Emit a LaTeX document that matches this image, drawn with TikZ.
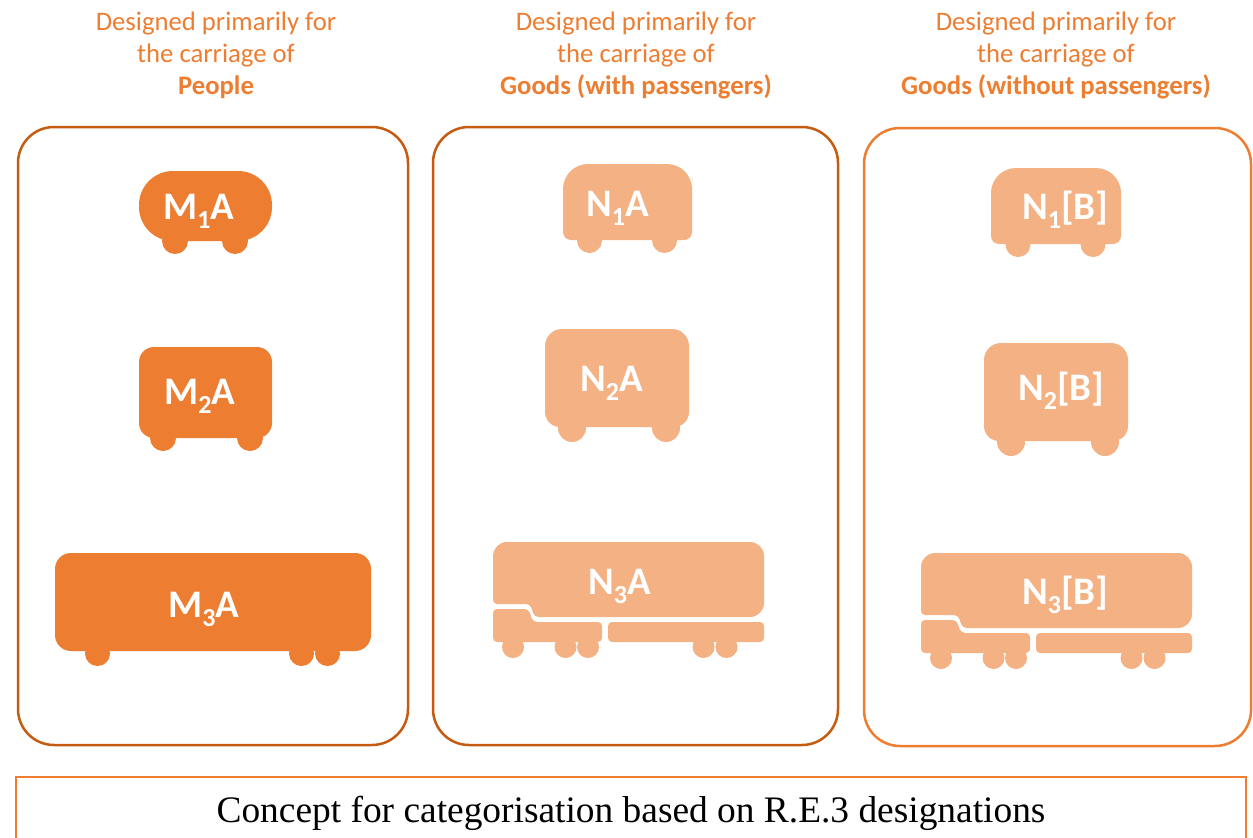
\documentclass[tikz,border=0pt]{standalone}
\usepackage{fontspec}
\setmainfont{Carlito}
\newfontfamily\serifface{Liberation Serif}
\definecolor{deep}{HTML}{C55A11}
\definecolor{mid}{HTML}{ED7D31}
\definecolor{pale}{HTML}{F4B183}
\newcommand{\sbs}[1]{\raisebox{-9pt}{\fontsize{26}{26}\selectfont #1}}
% x1 y1 x2 y2 top-radius bottom-radius
\newcommand{\bodyshape}[6]{%
  \fill ({#1},{(#2+#4)/2}) [rounded corners=#5pt] -- (#1,#2) -- (#3,#2) -- ({#3},{(#2+#4)/2})
     [rounded corners=#6pt] -- (#3,#4) -- (#1,#4) -- cycle;}
\newcommand{\wheel}[3]{\fill (#1,#2) circle[radius=#3pt];}
\newcommand{\truckshape}{%
  \fill [rounded corners=14pt] (493,560) -- (493,542) -- (764,542) -- (764,617) -- (560,617)
     [rounded corners=4pt] -- (534.5,617) -- (530,604) -- (493,604) -- cycle;
  \fill [rounded corners=4pt] (493,609) -- (528.5,609) -- (533,622) -- (602,622) -- (602,642) -- (493,642) -- cycle;
  \fill [rounded corners=4pt] (608,622) -- (764,622) -- (764,642) -- (608,642) -- cycle;
  \wheel{513}{647}{11}\wheel{565.5}{647}{11}\wheel{588}{647}{11}\wheel{703.5}{647}{11}\wheel{726.5}{647}{11}}
\tikzset{
  panel/.style={line width=2.5pt,rounded corners=36pt},
  heading/.style={text=mid,font=\fontsize{26.7}{31.5}\selectfont,align=center,anchor=base,inner sep=0pt},
  lab/.style={text=white,font=\fontsize{39}{39}\selectfont\bfseries,anchor=base west,inner sep=0pt}
}
\begin{document}
\begin{tikzpicture}[x=1pt,y=-1pt]
\useasboundingbox (0,0) rectangle (1253,838);
% headings
\node[heading] (h1a) at (216,30.5) {Designed primarily for};
\node[heading] (h1b) at (216,62.5) {the carriage of};
\node[heading] (h1c) at (216,94.5) {\textbf{People}};
\node[heading] (h2a) at (636,30.5) {Designed primarily for};
\node[heading] (h2b) at (636,62.5) {the carriage of};
\node[heading] (h2c) at (636,94.5) {\textbf{Goods (with passengers)}};
\node[heading] (h3a) at (1056,30.5) {Designed primarily for};
\node[heading] (h3b) at (1056,62.5) {the carriage of};
\node[heading] (h3c) at (1056,94.5) {\textbf{Goods (without passengers)}};
% panels
\draw[panel,draw=deep] (18,127) rectangle (408,745);
\draw[panel,draw=deep] (433,127) rectangle (838,745);
\draw[panel,draw=mid] (864,128) rectangle (1251,746);
% M vehicles
\begin{scope}[fill=mid]
\fill[rounded corners=34pt] (139,171) rectangle (272,241);
\wheel{175}{241}{13}\wheel{235}{241}{13}
\bodyshape{139}{347}{272}{438}{15}{15}
\wheel{163}{438}{13}\wheel{250}{438}{13}
\bodyshape{55}{553}{371}{651}{16}{16}
\wheel{97.5}{653.5}{12.5}\wheel{301.5}{653.5}{12.5}\wheel{327.5}{653.5}{12.5}
\end{scope}
% N vehicles
\begin{scope}[fill=pale]
\bodyshape{563}{164}{692}{240}{25}{8}
\wheel{589.5}{240.5}{12.5}\wheel{664.5}{240.5}{12.5}
\bodyshape{545}{329}{689}{427}{17}{15}
\wheel{572}{428}{14}\wheel{666}{428}{14}
\truckshape
\bodyshape{991}{168}{1121}{244}{25}{8}
\wheel{1018}{244.5}{12.5}\wheel{1093}{244.5}{12.5}
\bodyshape{984}{343}{1128}{441}{17}{15}
\wheel{1011}{442}{14}\wheel{1105}{442}{14}
\begin{scope}[shift={(428,11)}]
\truckshape
\end{scope}
\end{scope}
% labels
\node[lab] (m1) at (163,219.5) {M\sbs{1}A};
\node[lab] (m2) at (164,404.5) {M\sbs{2}A};
\node[lab] (m3) at (168,617.5) {M\sbs{3}A};
\node[lab] (n1) at (586,216.5) {N\sbs{1}A};
\node[lab] (n2) at (580,391.5) {N\sbs{2}A};
\node[lab] (n3) at (588,594.5) {N\sbs{3}A};
\node[lab] (b1) at (1022,219.5) {N\sbs{1}[B]};
\node[lab] (b2) at (1018,400.5) {N\sbs{2}[B]};
\node[lab] (b3) at (1022,604.5) {N\sbs{3}[B]};
% caption box
\draw[mid,line width=2.5pt] (16,842) -- (16,777) -- (1246,777) -- (1246,842);
\node[font=\serifface\fontsize{37.4}{37.4}\selectfont,anchor=base,inner sep=0pt] (cap) at (631,822) {Concept for categorisation based on R.E.3 designations};
\end{tikzpicture}
\end{document}
